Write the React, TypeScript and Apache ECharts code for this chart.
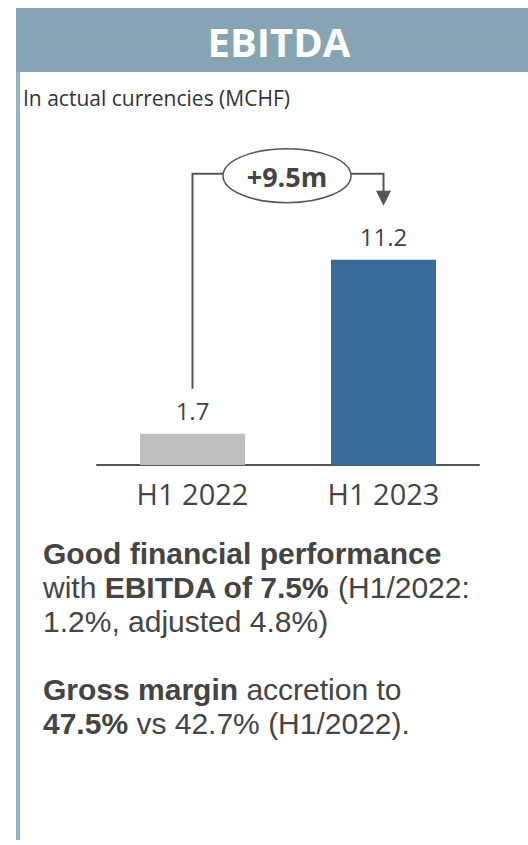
import React, { useEffect, useRef } from "react";
import * as echarts from "echarts";

const categories = ["H1 2022", "H1 2023"];
const ebitda = [1.7, 11.2];
const barColors = ["#BFBFBF", "#3A6C9A"];
const deltaLabel = "+9.5m";
const title = "EBITDA";
const subtitle = "In actual currencies (MCHF)";
const bodyText =
  "{b|Good financial performance}\nwith {b|EBITDA of 7.5%} (H1/2022:\n1.2%, adjusted 4.8%)\n\n{b|Gross margin} accretion to\n{b|47.5%} vs 42.7% (H1/2022).";

const FONT = "Open Sans";
const BODY_FONT = "Liberation Sans";
const INK = "#444444";

export default function App() {
  const ref = useRef<HTMLDivElement>(null);
  useEffect(() => {
    const el = ref.current!;
    const chart = echarts.init(el, null, { renderer: "svg" });
    chart.setOption({
      animation: false,
      backgroundColor: "#ffffff",
      grid: { left: 97, right: 49, top: 245, bottom: 380 },
      xAxis: {
        type: "category",
        data: categories,
        axisLine: { lineStyle: { color: "#555555", width: 2 } },
        axisTick: { show: false },
        axisLabel: { fontSize: 29, color: INK, fontFamily: FONT, margin: 14 },
      },
      yAxis: { type: "value", min: 0, max: 12, show: false, splitLine: { show: false } },
      series: [
        {
          type: "bar",
          barWidth: "55%",
          data: ebitda.map((v, i) => ({ value: v, itemStyle: { color: barColors[i] } })),
          label: {
            show: true,
            position: "top",
            distance: 11,
            fontSize: 24,
            color: INK,
            fontFamily: FONT,
          },
        },
      ],
    });
    const p1 = chart.convertToPixel({ seriesIndex: 0 }, [0, ebitda[0]]) as number[];
    const p2 = chart.convertToPixel({ seriesIndex: 0 }, [1, ebitda[1]]) as number[];
    const topY = p2[1] - 86;
    const ex = (p1[0] + p2[0]) / 2 - 1;
    const rx = 64;
    const ry = 27;
    const lineStyle = { stroke: "#555555", lineWidth: 2 };
    chart.setOption({
      graphic: [
        { type: "rect", shape: { x: 16, y: 8, width: 530, height: 64 }, style: { fill: "#87A4B4" } },
        {
          type: "text",
          x: 279,
          y: 41,
          style: {
            text: title,
            fill: "#ffffff",
            fontSize: 40,
            fontWeight: "bold",
            fontFamily: FONT,
            align: "center",
            verticalAlign: "middle",
          },
        },
        { type: "rect", shape: { x: 16, y: 72, width: 4, height: 768 }, style: { fill: "#9AB3C3" } },
        {
          type: "text",
          x: 23,
          y: 98,
          style: { text: subtitle, fill: "#333333", fontSize: 21, fontFamily: FONT, verticalAlign: "middle" },
        },
        {
          type: "polyline",
          shape: { points: [[p1[0], p1[1] - 45], [p1[0], topY], [ex - rx, topY]] },
          style: { ...lineStyle, fill: null },
        },
        {
          type: "polyline",
          shape: { points: [[ex + rx, topY], [p2[0], topY], [p2[0], p2[1] - 68]] },
          style: { ...lineStyle, fill: null },
        },
        {
          type: "polygon",
          shape: { points: [[p2[0] - 7.5, p2[1] - 69], [p2[0] + 7.5, p2[1] - 69], [p2[0], p2[1] - 54]] },
          style: { fill: "#555555" },
        },
        {
          type: "ellipse",
          shape: { cx: ex, cy: topY + 2, rx, ry },
          style: { fill: "#ffffff", stroke: "#555555", lineWidth: 1.5 },
        },
        {
          type: "text",
          x: ex,
          y: topY + 3,
          style: {
            text: deltaLabel,
            fill: INK,
            fontSize: 27,
            fontWeight: "bold",
            fontFamily: FONT,
            align: "center",
            verticalAlign: "middle",
          },
        },
        {
          type: "text",
          x: 43,
          y: 536,
          style: {
            text: bodyText,
            fill: INK,
            fontSize: 30,
            fontFamily: BODY_FONT,
            lineHeight: 34,
            verticalAlign: "top",
            rich: {
              b: { fontWeight: "bold", fontSize: 30, fill: INK, fontFamily: BODY_FONT, lineHeight: 34 },
            },
          },
        },
      ],
    });
    return () => chart.dispose();
  }, []);
  return (
    <div
      ref={ref}
      style={{ position: "absolute", left: 0, top: 0, width: 528, height: 845 }}
    />
  );
}
